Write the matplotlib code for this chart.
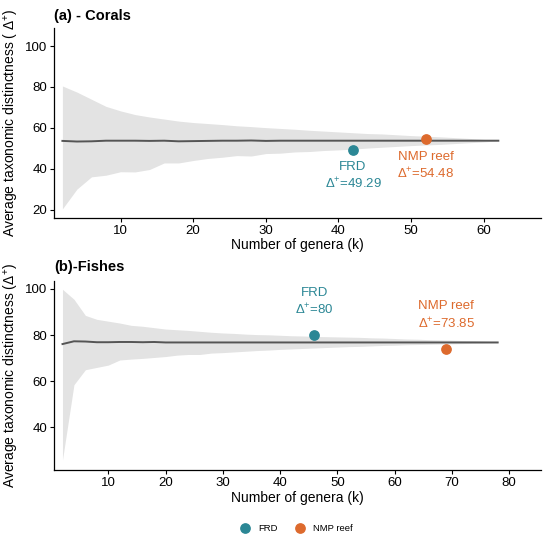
import numpy as np
import matplotlib
matplotlib.use('Agg')
from matplotlib import pyplot as plt

plt.rcParams['font.family'] = ['Liberation Sans', 'DejaVu Sans']
plt.rcParams['mathtext.fontset'] = 'custom'
plt.rcParams['mathtext.rm'] = 'Liberation Sans'
plt.rcParams['mathtext.it'] = 'Liberation Sans:italic'

################################################################################
### Data
################################################################################
# (a) corals: expected Delta+ funnel
k_corals = list(range(2, 63, 2))
upper_corals = [80.5, 77.5, 74.0, 70.5, 68.3, 66.5, 65.3, 64.3, 63.3, 62.6,
                62.1, 61.6, 61.0, 60.6, 60.1, 59.7, 59.3, 58.8, 58.4, 58.0,
                57.6, 57.2, 57.0, 56.6, 56.2, 55.9, 55.6, 55.2, 54.8, 54.3, 53.8]
lower_corals = [20.3, 30.0, 36.0, 36.8, 38.5, 38.4, 39.6, 42.8, 42.8, 44.0,
                45.0, 45.6, 46.4, 46.2, 47.4, 47.6, 48.2, 48.4, 48.9, 49.2,
                49.6, 50.1, 50.5, 50.9, 51.3, 51.6, 51.9, 52.3, 52.7, 53.1, 53.6]
mean_corals = [53.6, 53.3, 53.4, 53.7, 53.7, 53.7, 53.6, 53.7, 53.4, 53.5,
               53.6, 53.7, 53.7, 53.8, 53.6, 53.7, 53.7, 53.7, 53.7, 53.7,
               53.7, 53.7, 53.7, 53.7, 53.7, 53.7, 53.7, 53.7, 53.7, 53.7, 53.7]

# (b) fishes
k_fishes = list(range(2, 79, 2))
upper_fishes = [99.8, 95.5, 88.5, 86.8, 86.0, 85.2, 84.2, 83.8, 83.2, 82.6,
                82.3, 82.0, 81.6, 81.2, 80.9, 80.7, 80.4, 80.2, 80.1, 79.9,
                79.7, 79.6, 79.4, 79.3, 79.2, 79.1, 79.0, 78.8, 78.7, 78.5,
                78.3, 78.2, 78.0, 77.9, 77.8, 77.6, 77.5, 77.3, 77.1]
lower_fishes = [26.0, 58.5, 65.0, 66.0, 67.0, 69.2, 69.6, 69.9, 70.3, 70.7,
                71.3, 71.6, 71.6, 72.2, 72.4, 72.7, 73.0, 73.3, 73.5, 73.8,
                74.0, 74.2, 74.4, 74.6, 74.8, 75.0, 75.1, 75.3, 75.5, 75.6,
                75.8, 75.9, 76.0, 76.1, 76.2, 76.3, 76.4, 76.5, 76.6]
mean_fishes = [76.1, 77.3, 77.2, 76.9, 76.9, 77.0, 77.0, 76.9, 77.0, 76.8,
               76.8, 76.8, 76.8, 76.8, 76.8, 76.8, 76.8, 76.8, 76.8, 76.8,
               76.8, 76.8, 76.8, 76.8, 76.8, 76.8, 76.8, 76.8, 76.8, 76.8,
               76.8, 76.8, 76.8, 76.8, 76.8, 76.8, 76.8, 76.8, 76.8]

sites = ['FRD', 'NMP reef']
site_colors = ['#2B8795', '#DD6A2D']
k_obs_corals = [42, 52]
delta_obs_corals = [49.29, 54.48]
k_obs_fishes = [46, 69]
delta_obs_fishes = [80, 73.85]

################################################################################
### Figure
################################################################################
fig = plt.figure(figsize=(5.5, 5.42), dpi=100)
ax_a = fig.add_axes([0.098, 0.598, 0.886, 0.350])
ax_b = fig.add_axes([0.098, 0.132, 0.886, 0.350])


def funnel(ax, k, lo, hi, mean):
    ax.fill_between(k, lo, hi, color='#E3E3E3', lw=0, zorder=1)
    ax.plot(k, mean, color='#555555', lw=1.4, zorder=2)
    for side in ['top', 'right']:
        ax.spines[side].set_visible(False)
    for side in ['left', 'bottom']:
        ax.spines[side].set_linewidth(0.9)
    ax.tick_params(labelsize=9.5, length=3, width=0.8, colors='black', pad=2)
    ax.set_xlabel('Number of genera (k)', fontsize=10, labelpad=1)


funnel(ax_a, k_corals, lower_corals, upper_corals, mean_corals)
funnel(ax_b, k_fishes, lower_fishes, upper_fishes, mean_fishes)

# observed points
for i in range(2):
    ax_a.scatter(k_obs_corals[i], delta_obs_corals[i], s=45, color=site_colors[i],
                 zorder=3, label=sites[i])
    ax_b.scatter(k_obs_fishes[i], delta_obs_fishes[i], s=45, color=site_colors[i],
                 zorder=3)

# labels panel a
ax_a.text(42, 40.6, 'FRD', color=site_colors[0], ha='center', va='center', fontsize=9.5)
ax_a.text(42, 32.4, r'$\Delta^{+}$=49.29', color=site_colors[0], ha='center', va='center', fontsize=9.5)
ax_a.text(52, 45.6, 'NMP reef', color=site_colors[1], ha='center', va='center', fontsize=9.5)
ax_a.text(52, 37.3, r'$\Delta^{+}$=54.48', color=site_colors[1], ha='center', va='center', fontsize=9.5)

# labels panel b
ax_b.text(46, 98.4, 'FRD', color=site_colors[0], ha='center', va='center', fontsize=9.5)
ax_b.text(46, 90.8, r'$\Delta^{+}$=80', color=site_colors[0], ha='center', va='center', fontsize=9.5)
ax_b.text(69, 92.4, 'NMP reef', color=site_colors[1], ha='center', va='center', fontsize=9.5)
ax_b.text(69, 84.8, r'$\Delta^{+}$=73.85', color=site_colors[1], ha='center', va='center', fontsize=9.5)

ax_a.set_xlim(0.83, 67.9)
ax_a.set_ylim(15.9, 108.8)
ax_a.set_xticks([10, 20, 30, 40, 50, 60])
ax_a.set_yticks([20, 40, 60, 80, 100])
ax_a.set_ylabel(r'Average taxonomic distinctness ( $\Delta^{+}$)', fontsize=10, labelpad=3)

ax_b.set_xlim(0.5, 85.6)
ax_b.set_ylim(21.4, 103.5)
ax_b.set_xticks([10, 20, 30, 40, 50, 60, 70, 80])
ax_b.set_yticks([40, 60, 80, 100])
ax_b.set_ylabel(r'Average taxonomic distinctness ($\Delta^{+}$)', fontsize=10, labelpad=3)

fig.text(0.098, 0.971, '(a) - Corals', fontsize=10.5, fontweight='bold', va='center', ha='left')
fig.text(0.098, 0.507, '(b)-Fishes', fontsize=10.5, fontweight='bold', va='center', ha='left')

fig.legend(loc='center', bbox_to_anchor=(0.535, 0.025), ncol=2, frameon=False,
           fontsize=6.8, handletextpad=0.4, columnspacing=1.4, markerscale=1.0)

fig.savefig('out.png', dpi=100)
